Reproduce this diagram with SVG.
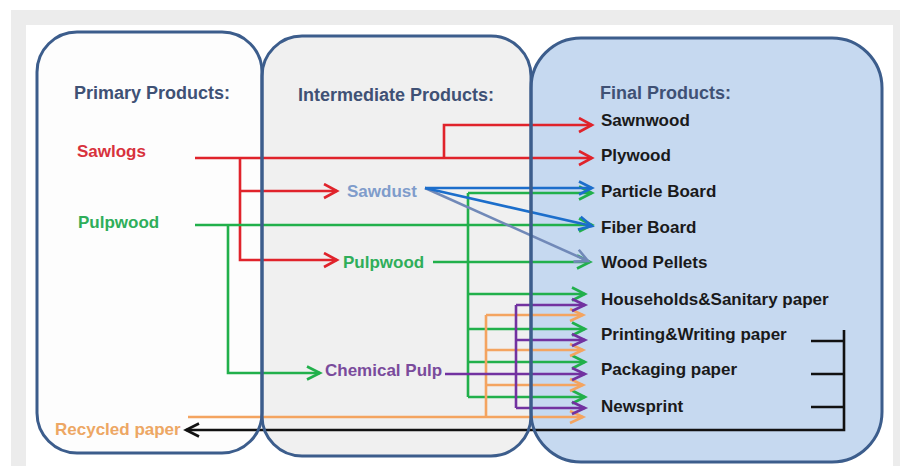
<svg xmlns="http://www.w3.org/2000/svg" width="900" height="466" viewBox="0 0 900 466">
<defs>
<style>
.box{stroke:none}
.outline{fill:none;stroke:#3c5d8c;stroke-width:3}
.t{font-family:"Liberation Sans",Arial,sans-serif;font-weight:bold;font-size:17px}
.h{font-size:18px;fill:#3f5175}
.f{fill:#1a1a1a}
.ln{fill:none;stroke-width:2.6;stroke-linejoin:miter}
.red{stroke:#e0232b}.green{stroke:#21b04b}.blue{stroke:#1c6ecb}.slate{stroke:#7189b8}
.purple{stroke:#7232a0}.orange{stroke:#f4a460}.black{stroke:#111}
</style>
<marker id="mr" markerUnits="userSpaceOnUse" markerWidth="18" markerHeight="18" refX="14" refY="8" orient="auto"><path d="M1,1 L14,8 L1,15" fill="none" stroke="#e0232b" stroke-width="2.6"/></marker>
<marker id="mg" markerUnits="userSpaceOnUse" markerWidth="18" markerHeight="18" refX="14" refY="8" orient="auto"><path d="M1,1.5 L14,8 L1,14.5" fill="none" stroke="#21b04b" stroke-width="2.6"/></marker>
<marker id="mb" markerUnits="userSpaceOnUse" markerWidth="18" markerHeight="18" refX="14" refY="8" orient="auto"><path d="M1,1.5 L14,8 L1,14.5" fill="none" stroke="#1c6ecb" stroke-width="2.6"/></marker>
<marker id="ms" markerUnits="userSpaceOnUse" markerWidth="18" markerHeight="18" refX="14" refY="8" orient="auto"><path d="M1,1.5 L14,8 L1,14.5" fill="none" stroke="#7189b8" stroke-width="2.6"/></marker>
<marker id="mp" markerUnits="userSpaceOnUse" markerWidth="18" markerHeight="18" refX="14" refY="8" orient="auto"><path d="M1,2 L14,8 L1,14" fill="none" stroke="#7232a0" stroke-width="2.6"/></marker>
<marker id="mo" markerUnits="userSpaceOnUse" markerWidth="18" markerHeight="18" refX="14" refY="8" orient="auto"><path d="M1,2 L14,8 L1,14" fill="none" stroke="#f4a460" stroke-width="2.6"/></marker>
<marker id="mk" markerUnits="userSpaceOnUse" markerWidth="18" markerHeight="18" refX="14" refY="8" orient="auto"><path d="M1,1.5 L14,8 L1,14.5" fill="none" stroke="#111" stroke-width="2.6"/></marker>
</defs>
<rect x="0" y="0" width="900" height="466" fill="#ffffff"/>
<rect x="11" y="10" width="889" height="456" fill="#ececec"/>
<rect x="26" y="25" width="867" height="441" fill="#ffffff"/>

<g id="primary">
<rect class="box" x="37" y="32" width="225" height="421" rx="40" fill="#fdfdfd"/>
<text class="t h" x="74" y="99">Primary Products:</text>
<text class="t" x="77" y="157" fill="#d8323c">Sawlogs</text>
<text class="t" x="78" y="228" fill="#2fae5a">Pulpwood</text>
<text class="t" x="55" y="435" fill="#eda764">Recycled paper</text>
</g>
<g id="intermediate">
<rect class="box" x="262" y="36" width="269" height="420" rx="40" fill="#f0f0f0"/>
<text class="t h" x="298" y="101">Intermediate Products:</text>
<text class="t" x="347" y="197" fill="#7f9ccb">Sawdust</text>
<text class="t" x="343" y="268" fill="#2fae5a">Pulpwood</text>
<text class="t" x="325" y="376" fill="#7a4b9c">Chemical Pulp</text>
</g>
<g id="final">
<rect class="box" x="531" y="38" width="351" height="424" rx="50" fill="#c6d9f0"/>
<text class="t h" x="600" y="99">Final Products:</text>
<text class="t f" x="601" y="126">Sawnwood</text>
<text class="t f" x="601" y="161">Plywood</text>
<text class="t f" x="601" y="197">Particle Board</text>
<text class="t f" x="601" y="233">Fiber Board</text>
<text class="t f" x="601" y="268">Wood Pellets</text>
<text class="t f" x="601" y="305">Households&amp;Sanitary paper</text>
<text class="t f" x="601" y="340">Printing&amp;Writing paper</text>
<text class="t f" x="601" y="375">Packaging paper</text>
<text class="t f" x="601" y="412">Newsprint</text>
</g>

<g id="connectors">
<path class="ln red" d="M195,158 H592" marker-end="url(#mr)"/>
<path class="ln red" d="M444,158 V125 H592" marker-end="url(#mr)"/>
<path class="ln red" d="M240,158 V260 H337" marker-end="url(#mr)"/>
<path class="ln red" d="M240,191 H337" marker-end="url(#mr)"/>

<path class="ln green" d="M195,225 H592" marker-end="url(#mg)"/>
<path class="ln green" d="M228,225 V373 H320" marker-end="url(#mg)"/>
<path class="ln green" d="M433,262 H590" marker-end="url(#mg)"/>
<path class="ln green" d="M468,193 V397"/>
<path class="ln green" d="M468,193 H592" marker-end="url(#mg)"/>
<path class="ln green" d="M468,294 H585" marker-end="url(#mg)"/>
<path class="ln green" d="M468,329 H585" marker-end="url(#mg)"/>
<path class="ln green" d="M468,362 H585" marker-end="url(#mg)"/>
<path class="ln green" d="M468,397 H585" marker-end="url(#mg)"/>

<path class="ln orange" d="M188,417 H583" marker-end="url(#mo)"/>
<path class="ln orange" d="M486,315 V417"/>
<path class="ln orange" d="M486,315 H583" marker-end="url(#mo)"/>
<path class="ln orange" d="M486,350 H583" marker-end="url(#mo)"/>
<path class="ln orange" d="M486,385 H583" marker-end="url(#mo)"/>

<path class="ln purple" d="M445,374 H585" marker-end="url(#mp)"/>
<path class="ln purple" d="M516,305 V408"/>
<path class="ln purple" d="M516,305 H585" marker-end="url(#mp)"/>
<path class="ln purple" d="M516,340 H585" marker-end="url(#mp)"/>
<path class="ln purple" d="M516,408 H585" marker-end="url(#mp)"/>

<path class="ln slate" d="M425,188 L588,261" marker-end="url(#ms)"/>
<path class="ln blue" d="M425,188 H592" marker-end="url(#mb)"/>
<path class="ln blue" d="M425,188 L592,226" marker-end="url(#mb)"/>

<path class="ln black" d="M844,330 V430 H186" marker-end="url(#mk)"/>
<path class="ln black" d="M811,341 H844 M811,374 H844 M811,407 H844"/>
</g>

<g id="outlines">
<rect class="outline" x="37" y="32" width="225" height="421" rx="40"/>
<rect class="outline" x="262" y="36" width="269" height="420" rx="40"/>
<rect class="outline" x="531" y="38" width="351" height="424" rx="50"/>
</g>
</svg>
